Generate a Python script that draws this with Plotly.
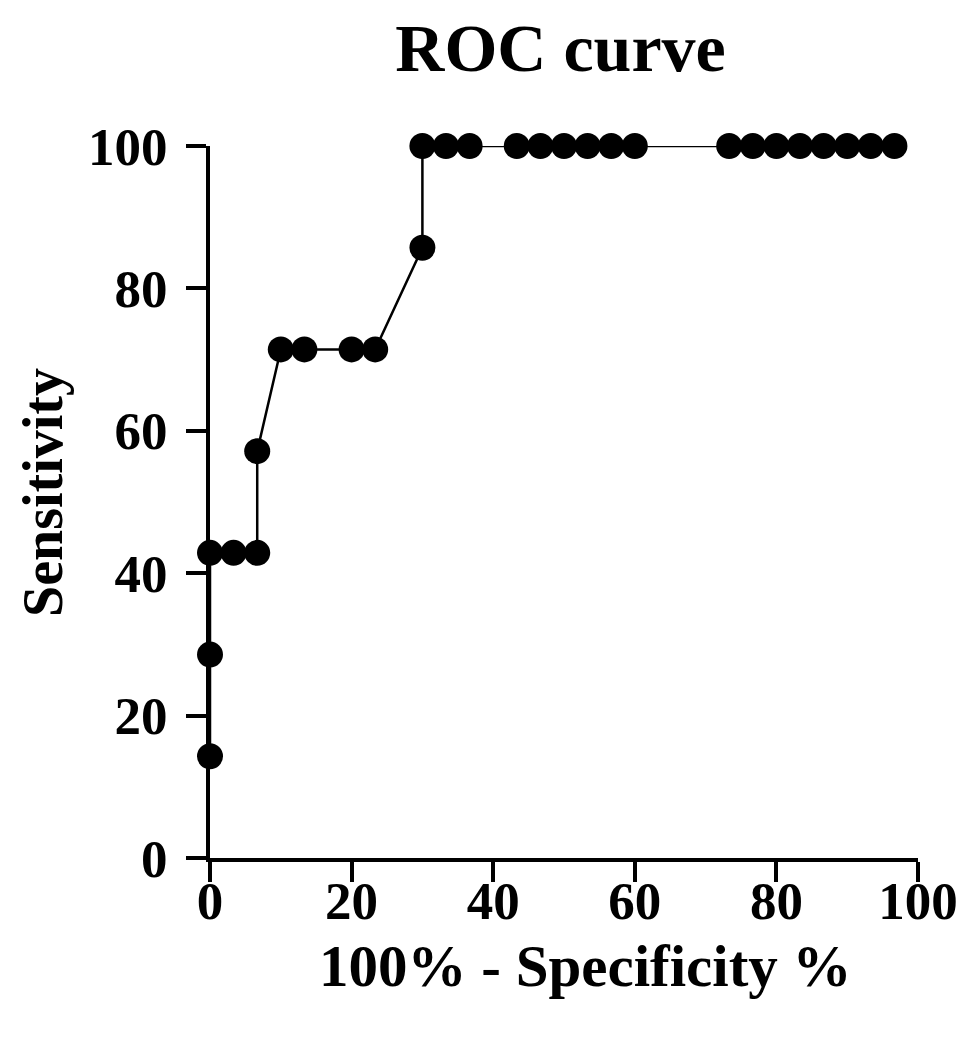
import plotly.graph_objects as go

# ROC 曲线数据 (100% - Specificity %, Sensitivity %)
fpr = [0, 0, 0, 3.33, 6.67, 6.67, 10, 13.33, 20, 23.33, 30, 30, 33.33, 36.67,
       43.33, 46.67, 50, 53.33, 56.67, 60,
       73.33, 76.67, 80, 83.33, 86.67, 90, 93.33, 96.67]
sens = [14.29, 28.57, 42.86, 42.86, 42.86, 57.14, 71.43, 71.43, 71.43, 71.43, 85.71, 100, 100, 100,
        100, 100, 100, 100, 100, 100,
        100, 100, 100, 100, 100, 100, 100, 100]
tick_vals = [0, 20, 40, 60, 80, 100]

font_family = "Liberation Serif, Times New Roman, serif"

fig = go.Figure(data=[go.Scatter(
    x=fpr, y=sens, mode='lines+markers',
    line=dict(color='black', width=2.5),
    marker=dict(symbol='circle', size=26, color='black'),
    cliponaxis=False, showlegend=False
)])

axis_common = dict(
    range=[0, 100], tickvals=tick_vals,
    showgrid=False, zeroline=False,
    showline=True, linecolor='black', linewidth=4,
    ticks='outside', ticklen=20, tickwidth=4, tickcolor='black',
    ticklabeloverflow='allow',
    tickfont=dict(family=font_family, size=53, color='black', weight='bold'),
)

# 页面 body 有 8px 边距
fig.update_layout(
    width=961, height=1022,
    paper_bgcolor='white', plot_bgcolor='white',
    margin=dict(l=202, r=51, t=138, b=172),
    title=dict(text='<b>ROC curve</b>', x=0.575, xanchor='center', y=0.962, yanchor='middle',
               font=dict(family=font_family, size=68, color='black')),
    xaxis=dict(**axis_common, ticklabelstandoff=-27),
    yaxis=dict(**axis_common, ticklabelstandoff=8),
    font=dict(family=font_family, color='black'),
)

# 坐标轴标题用注释放置
fig.add_annotation(text='<b>100% - Specificity %</b>', xref='paper', yref='paper',
                   x=0.530, y=-0.152, xanchor='center', yanchor='middle', showarrow=False,
                   font=dict(family=font_family, size=59, color='black'))
fig.add_annotation(text='<b>Sensitivity</b>', xref='paper', yref='paper',
                   x=-0.236, y=0.514, xanchor='center', yanchor='middle', showarrow=False,
                   textangle=-90,
                   font=dict(family=font_family, size=56, color='black'))

fig.write_html("out.html")
